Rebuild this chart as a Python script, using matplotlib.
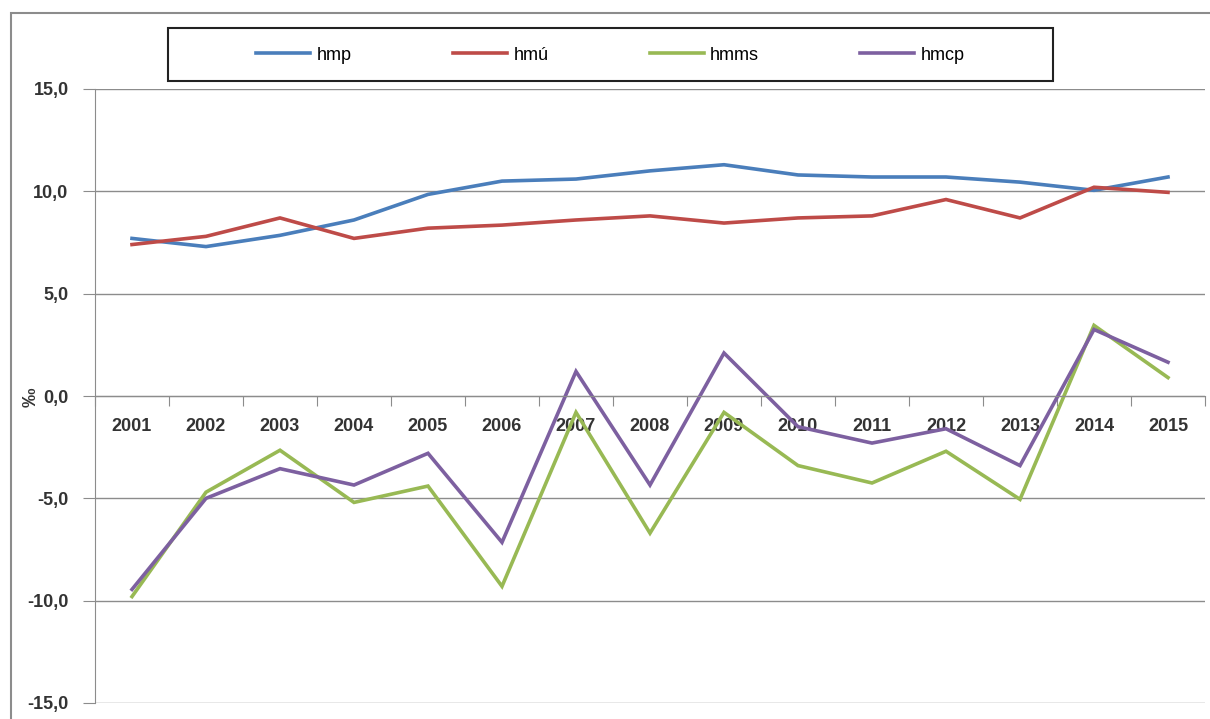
import numpy as np
import matplotlib.pyplot as plt
from matplotlib.patches import Rectangle
from matplotlib.ticker import FixedLocator, FuncFormatter

# Datos
anios = ['2001', '2002', '2003', '2004', '2005', '2006', '2007', '2008',
         '2009', '2010', '2011', '2012', '2013', '2014', '2015']
hmp = [7.7, 7.3, 7.85, 8.6, 9.85, 10.5, 10.6, 11.0, 11.3, 10.8, 10.7, 10.7, 10.45, 10.05, 10.7]
hmu = [7.4, 7.8, 8.7, 7.7, 8.2, 8.35, 8.6, 8.8, 8.45, 8.7, 8.8, 9.6, 8.7, 10.2, 9.95]
hmms = [-9.8, -4.7, -2.65, -5.2, -4.4, -9.3, -0.8, -6.7, -0.8, -3.4, -4.25, -2.7, -5.05, 3.45, 0.9]
hmcp = [-9.45, -5.0, -3.55, -4.35, -2.8, -7.15, 1.2, -4.35, 2.1, -1.5, -2.3, -1.6, -3.4, 3.25, 1.65]

series = [('hmp', hmp, '#4a7ebb'), ('hmú', hmu, '#be4b48'),
          ('hmms', hmms, '#98b954'), ('hmcp', hmcp, '#7d60a0')]

plt.rcParams['font.family'] = ['Liberation Sans', 'DejaVu Sans']

fig = plt.figure(figsize=(12.1, 7.19), dpi=100)
ax = fig.add_axes([95 / 1210, 1 - 703 / 719, 1110 / 1210, 614 / 719])

x = np.arange(len(anios))
lineas = []
for nombre, vals, color in series:
    l, = ax.plot(x, vals, color=color, lw=2.6, label=nombre, solid_joinstyle='miter')
    lineas.append(l)

ax.set_xlim(-0.5, len(anios) - 0.5)
ax.set_ylim(-15, 15)
ax.set_yticks(np.arange(-15, 16, 5))
ax.yaxis.set_major_formatter(FuncFormatter(lambda v, p: f"{v:.1f}".replace('.', ',')))
ax.grid(axis='y', color='#8c8c8c', lw=1)
ax.set_axisbelow(True)

# eje de categorias cruzando en 0
ax.spines['bottom'].set_position(('data', 0))
for s in ['top', 'right']:
    ax.spines[s].set_visible(False)
ax.spines['bottom'].set_color('#8c8c8c')
ax.spines['left'].set_color('#8c8c8c')
ax.xaxis.set_major_locator(FixedLocator(np.arange(-0.5, len(anios), 1)))
ax.xaxis.set_minor_locator(FixedLocator(x))
ax.set_xticklabels([], minor=False)
ax.set_xticklabels(anios, minor=True)
ax.tick_params(axis='x', which='major', length=7, color='#8c8c8c', direction='out')
ax.tick_params(axis='x', which='minor', length=0, pad=16, labelsize=13, labelcolor='#333333')
ax.tick_params(axis='y', length=9, color='#8c8c8c', pad=10, labelsize=13, labelcolor='#333333')
for t in ax.get_xticklabels(minor=True) + ax.get_yticklabels():
    t.set_fontweight('bold')

fig.text(31 / 1210, 1 - 397 / 719, '‰', rotation=90, ha='center', va='center',
         fontsize=14, fontweight='bold', color='#333333')

# marco exterior
fig.patches.append(Rectangle((11 / 1210, -0.05), 1.0, 1 - 13 / 719 + 0.05,
                             transform=fig.transFigure, fill=False,
                             edgecolor='#8c8c8c', lw=1.5))

# caja de leyenda
fig.patches.append(Rectangle((168 / 1210, 1 - 81 / 719), 885 / 1210, 53 / 719,
                             transform=fig.transFigure, fill=False,
                             edgecolor='#222222', lw=1.5))
fig.legend(handles=lineas, loc='center', ncol=4, frameon=False,
           bbox_to_anchor=((168 + 885 / 2) / 1210, 1 - 55 / 719),
           fontsize=13, handlelength=3.0, handletextpad=0.35, columnspacing=5.6)

plt.savefig('out.png', dpi=100)
